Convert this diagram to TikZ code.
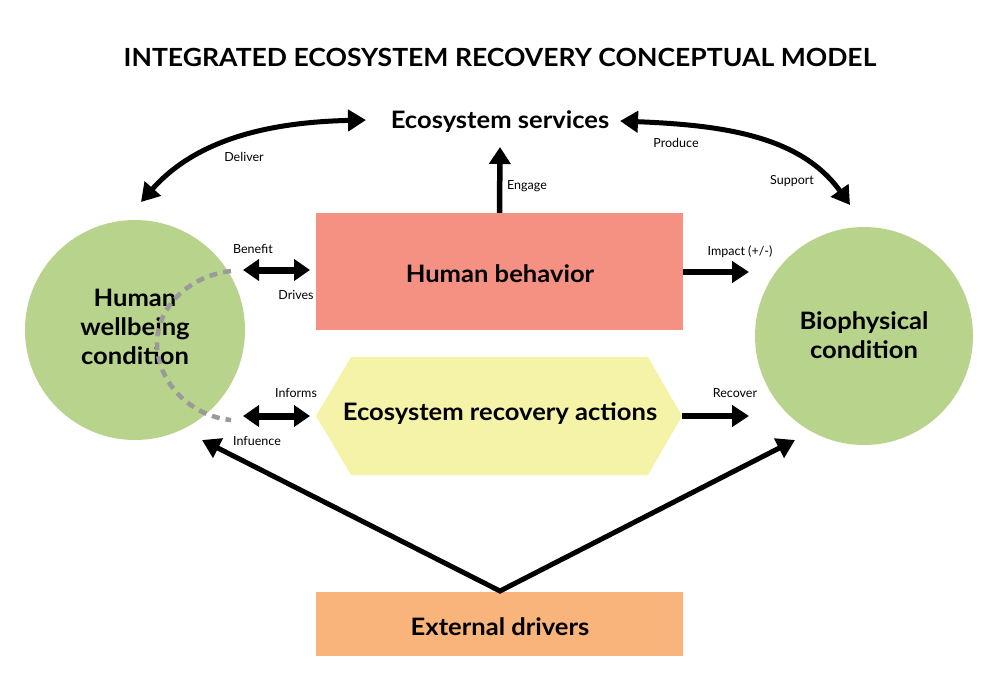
\documentclass[tikz,border=0pt]{standalone}
\usepackage{fontspec}
\setmainfont{Lato}
\usetikzlibrary{arrows.meta}
\definecolor{salmon}{HTML}{F59182}
\definecolor{paleyellow}{HTML}{F4F3A7}
\definecolor{peach}{HTML}{F8B47B}
\definecolor{leaf}{HTML}{B8D38B}
\definecolor{dashgray}{HTML}{9A9A9A}
\newcommand\stretchtxt[1]{\scalebox{1.065}[1]{#1}}
\newcommand\stack[1]{\begin{tabular}{@{}c@{}}#1\end{tabular}}
\begin{document}
\begin{tikzpicture}[x=1pt,y=-1pt,
  bigtext/.style={font=\bfseries\fontsize{24}{29}\selectfont, align=center},
  lbl/.style={font=\fontsize{12.5}{14}\selectfont, inner sep=0pt},
  arr/.style={line width=5.5pt, -{Triangle[length=17pt,width=21pt]}},
  dbl/.style={line width=7pt, {Triangle[length=16pt,width=21pt]}-{Triangle[length=16pt,width=21pt]}},
  curvy/.style={line width=5pt, {Triangle[length=18pt,width=21pt]}-{Triangle[length=18pt,width=21pt]}},
  box/.style={minimum width=367pt, inner sep=0pt, draw=none}
]
\useasboundingbox (0,0) rectangle (1000,694);

% title
\node[font=\bfseries\fontsize{25}{28}\selectfont] (title) at (500,57) {\scalebox{1.062}[1]{INTEGRATED ECOSYSTEM RECOVERY CONCEPTUAL MODEL}};

% ecosystem services
\node[bigtext] (es) at (500,122) {\stretchtxt{Ecosystem services}};

% circles
\node[circle, fill=leaf, minimum size=220pt, inner sep=0pt] (hw) at (135,330) {};
\node[circle, fill=leaf, minimum size=218pt, inner sep=0pt] (bp) at (864,336) {};
\node[bigtext] (hwt) at (135,330) {\stretchtxt{\stack{Human\\wellbeing\\condition}}};
\node[bigtext] (bpt) at (864,338) {\stretchtxt{\stack{Biophysical\\condition}}};

% human behavior
\node[box, fill=salmon, minimum height=117pt] (hb) at (499.5,271.5) {};
\node[bigtext] (hbt) at (500,274) {\stretchtxt{Human behavior}};

% recovery actions hexagon
\coordinate (h1) at (316,416);
\coordinate (h2) at (351,357);
\coordinate (h3) at (648,357);
\coordinate (h4) at (682,416);
\coordinate (h5) at (648,475);
\coordinate (h6) at (351,475);
\fill[paleyellow] (h1) -- (h2) -- (h3) -- (h4) -- (h5) -- (h6) -- cycle;
\node[bigtext] (era) at (500,414) {\stretchtxt{Ecosystem recovery actions}};

% external drivers
\node[box, fill=peach, minimum height=64pt] (ed) at (499.5,624) {};
\node[bigtext] (edt) at (500,627) {\stretchtxt{External drivers}};

% dashed arc
\coordinate (d1) at (231,271);
\coordinate (d2) at (231,420);
\draw[dashgray, line width=4.5pt, dash pattern=on 8pt off 6pt]
  (d1) .. controls (188,276) and (157,308) .. (157,343)
       .. controls (157,382) and (190,416) .. (d2);

% double arrows left
\coordinate (b1) at (243,270);
\coordinate (b2) at (310,270);
\draw[dbl] (b1) -- (b2);
\node[lbl] (benefit) at (253,249) {Benefit};
\node[lbl] (drives) at (296,295) {Drives};

\coordinate (i1) at (243,416);
\coordinate (i2) at (310,416);
\draw[dbl] (i1) -- (i2);
\node[lbl] (informs) at (296,393) {Informs};
\node[lbl] (infuence) at (257,441) {Infuence};

% engage
\coordinate (eg) at (500,147);
\draw[arr] (hb.north) -- (eg);
\node[lbl] (engage) at (527,186) {Engage};

% impact and recover
\coordinate (im) at (749,272);
\draw[arr] (hb.east |- im) -- (im);
\node[lbl] (impact) at (740,252) {Impact (+/-)};
\coordinate (rc) at (749,416);
\draw[arr] (h4) -- (rc);
\node[lbl] (recover) at (735,393) {Recover};

% curved arrows
\coordinate (dl1) at (141,202);
\coordinate (dl2) at (366,120);
\draw[curvy] (dl1) .. controls (200,135) and (280,122) .. (dl2);
\node[lbl] (deliver) at (244,157) {Deliver};

\coordinate (pr1) at (620,121);
\coordinate (pr2) at (850,205);
\draw[curvy] (pr1) .. controls (720,125) and (800,135) .. (pr2);
\node[lbl] (produce) at (676,143) {Produce};
\node[lbl] (support) at (792,181) {Support};

% external driver arrows
\coordinate (v) at (500,591);
\coordinate (vl) at (202,440);
\coordinate (vr) at (795,440);
\draw[line width=5pt, line join=miter, {Triangle[length=18pt,width=21pt]}-{Triangle[length=18pt,width=21pt]}] (vl) -- (v) -- (vr);
\end{tikzpicture}
\end{document}
